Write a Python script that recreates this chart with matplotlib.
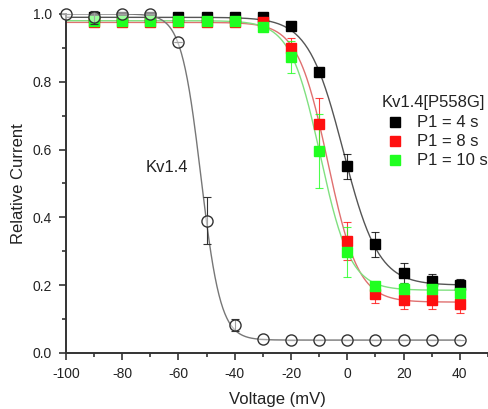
import numpy as np
import matplotlib
matplotlib.use("Agg")
import matplotlib.pyplot as plt
from matplotlib.ticker import MultipleLocator, FormatStrFormatter

plt.rcParams['font.family'] = ['Liberation Sans', 'DejaVu Sans']
plt.rcParams['axes.unicode_minus'] = False

# Kv1.4 wild type (open circles)
v_wt = [-100, -90, -80, -70, -60, -50, -40, -30, -20, -10, 0, 10, 20, 30, 40]
i_wt = [1.0, 0.99, 1.0, 1.0, 0.917, 0.39, 0.083, 0.04, 0.038, 0.038, 0.038, 0.038, 0.038, 0.038, 0.038]
e_wt = [0.0, 0.02, 0.0, 0.0, 0.0, 0.07, 0.018, 0.0, 0.0, 0.0, 0.0, 0.0, 0.0, 0.0, 0.0]

# Kv1.4[P558G] at three prepulse durations
v_mut = [-90, -80, -70, -60, -50, -40, -30, -20, -10, 0, 10, 20, 30, 40]
i_4s = [0.99, 0.99, 0.99, 0.99, 0.99, 0.99, 0.99, 0.965, 0.83, 0.55, 0.32, 0.236, 0.212, 0.20]
e_4s = [0, 0, 0, 0, 0, 0, 0, 0.01, 0.01, 0.037, 0.038, 0.03, 0.022, 0.017]
i_8s = [0.975, 0.975, 0.975, 0.975, 0.975, 0.975, 0.975, 0.90, 0.676, 0.33, 0.174, 0.156, 0.156, 0.145]
e_8s = [0, 0, 0, 0, 0, 0, 0, 0.03, 0.076, 0.057, 0.027, 0.025, 0.025, 0.027]
i_10s = [0.98, 0.98, 0.98, 0.98, 0.98, 0.98, 0.96, 0.873, 0.596, 0.298, 0.198, 0.19, 0.19, 0.177]
e_10s = [0, 0, 0, 0, 0, 0, 0, 0.047, 0.11, 0.074, 0.015, 0.015, 0.015, 0.015]

# Boltzmann fit parameters: (top, bottom, V1/2, k)
fit_wt = (1.0, 0.038, -52.0, 3.5)
fit_4s = (0.99, 0.20, -1.4, 6.25)
fit_8s = (0.975, 0.15, -6.9, 5.4)
fit_10s = (0.98, 0.185, -9.6, 5.35)


def boltzmann(v, top, bottom, vh, k):
    return bottom + (top - bottom) / (1.0 + np.exp((v - vh) / k))


fig = plt.figure(figsize=(4.88, 4.09), dpi=100)
ax = fig.add_axes([0.135, 0.137, 0.865, 0.829])

vv = np.linspace(-100, 40, 400)
ax.plot(vv, boltzmann(vv, *fit_4s), color='#555555', lw=1.0, zorder=2)
ax.plot(vv, boltzmann(vv, *fit_8s), color='#e07070', lw=1.0, zorder=2)
ax.plot(vv, boltzmann(vv, *fit_10s), color='#80e080', lw=1.0, zorder=2)
ax.plot(vv, boltzmann(vv, *fit_wt), color='#777777', lw=1.0, zorder=2)

series = [
    (i_4s, e_4s, 'black', 'P1 = 4 s'),
    (i_8s, e_8s, '#ff1010', 'P1 = 8 s'),
    (i_10s, e_10s, '#20ff20', 'P1 = 10 s'),
]
for y, err, c, lab in series:
    ax.errorbar(v_mut, y, yerr=err, fmt='none', ecolor=c, elinewidth=0.8,
                capsize=3, capthick=0.8, alpha=0.8, zorder=3, clip_on=False)
    ax.plot(v_mut, y, 's', color=c, ms=7, mec=c, zorder=4, clip_on=False)

ax.errorbar(v_wt, i_wt, yerr=e_wt, fmt='none', ecolor='#333333', elinewidth=0.8,
            capsize=3, capthick=0.8, zorder=5, clip_on=False)
ax.plot(v_wt, i_wt, 'o', ms=8, mfc=(1, 1, 1, 0.55), mec='#333333', mew=1.0,
        zorder=6, clip_on=False)

ax.set_xlim(-100, 50)
ax.set_ylim(0, 1.0)
ax.xaxis.set_minor_locator(MultipleLocator(10))
ax.yaxis.set_major_locator(MultipleLocator(0.2))
ax.yaxis.set_minor_locator(MultipleLocator(0.1))
ax.set_xticks([-100, -80, -60, -40, -20, 0, 20, 40])
ax.yaxis.set_major_formatter(FormatStrFormatter('%.1f'))

for side in ['top', 'right']:
    ax.spines[side].set_visible(False)
for side in ['left', 'bottom']:
    ax.spines[side].set_linewidth(1.4)
    ax.spines[side].set_color('#333333')
ax.tick_params(which='major', direction='out', length=5, width=1.2, pad=5,
               colors='#333333', labelsize=10, labelcolor='#222222')
ax.tick_params(which='minor', direction='out', length=3, width=1.2,
               colors='#333333')

ax.set_xlabel('Voltage (mV)', fontsize=12, color='#222222', labelpad=8)
ax.set_ylabel('Relative Current', fontsize=12, color='#222222', labelpad=5)

ax.text(-71.5, 0.546, 'Kv1.4', fontsize=12, color='#222222', va='center')

# legend block drawn by hand so the keys sit indented under the title
ax.text(0.749, 0.740, 'Kv1.4[P558G]', transform=ax.transAxes, fontsize=12,
        color='#222222', va='center', ha='left')
for k, (_, _, c, lab) in enumerate(series):
    yk = 0.681 - k * 0.056
    ax.plot([0.780], [yk], 's', color=c, ms=6.5, transform=ax.transAxes,
            clip_on=False)
    ax.text(0.832, yk, lab, transform=ax.transAxes, fontsize=12,
            color='#222222', va='center', ha='left')

fig.savefig('out.png', dpi=100)
